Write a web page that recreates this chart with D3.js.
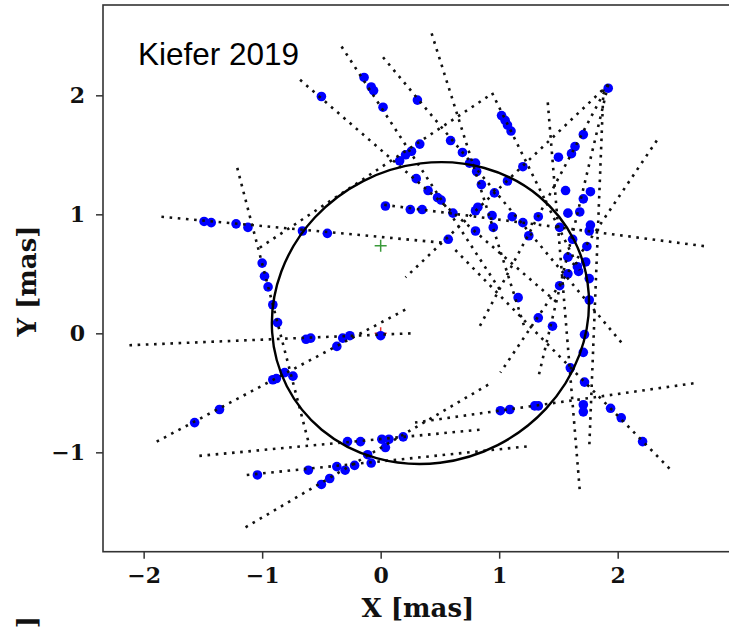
<!DOCTYPE html>
<html>
<head>
<meta charset="utf-8">
<script src="https://cdn.jsdelivr.net/npm/d3@7"></script>
<style>
  body { margin: 0; background: #fff; }
  svg { display: block; }
</style>
</head>
<body>
<svg id="chart" width="729" height="627"></svg>
<script>
// axis limits and ticks (mas)
var xLimits = [-2.343, 2.973];
var yLimits = [-1.835, 2.759];
var xTicks = [-2, -1, 0, 1, 2];
var yTicks = [-1, 0, 1, 2];

// scan directions of each epoch: [[x1, y1], [x2, y2]]
var scanLines = [
    [[-1.85, 0.98], [0.54, 0.76]],
    [[-1.21, 1.39], [-0.61, -0.91]],
    [[-1.02, 0.72], [0.92, 2.00]],
    [[-0.33, 2.41], [1.01, 0.36]],
    [[0.02, 2.32], [2.05, -0.10]],
    [[0.43, 2.52], [1.22, 0.03]],
    [[-0.68, 2.13], [1.51, 0.24]],
    [[0.94, 2.02], [1.68, 0.53]],
    [[1.92, 2.09], [0.21, 0.47]],
    [[1.92, 2.09], [0.82, 0.03]],
    [[1.92, 2.09], [1.33, -0.37]],
    [[1.41, 1.94], [1.68, -1.32]],
    [[1.88, 2.05], [1.76, -0.96]],
    [[2.33, 1.62], [1.01, -0.33]],
    [[0.03, 1.08], [2.75, 0.73]],
    [[0.63, 0.70], [2.47, -1.17]],
    [[-2.12, -0.10], [0.26, 0.00]],
    [[-1.89, -0.91], [0.21, 0.20]],
    [[-1.53, -1.03], [0.84, -0.81]],
    [[-1.14, -1.63], [0.91, -0.43]],
    [[-1.13, -1.19], [1.24, -0.95]],
    [[2.64, -0.42], [0.29, -0.75]]
];

// measured positions
var measX = [
    -0.50, -0.14, -0.08, -0.06, 0.02, 0.31, 0.59, 0.69, 0.16, 0.21, 0.26, 0.33,
    0.30, 0.40, 0.48, 0.51, 0.61, 0.04, 0.25, 0.35, 0.57, 0.75, 0.80, 0.81, 0.85, 0.96,
    1.02, 1.05, 1.07, 1.10, 1.20, 1.07, 0.82, 0.80, 0.94, 0.95, 0.80, 1.11, 1.20, 1.33, 1.25,
    1.50, 1.61, 1.64, 1.71, 1.92, 1.56, 1.77, 1.71, 1.58, 1.68,
    1.51, 1.77, 1.76, 1.62, 1.74, 1.58, 1.73, 1.66, 1.58, 1.67, 1.76, 1.51, 1.16, 1.33, 1.45,
    1.76, 1.72, 1.71, 1.60, 1.72, 1.71, 1.71, 1.94, 2.03, 2.21, 1.01, 1.09, 1.30, 1.33,
    -1.49, -1.43, -1.22, -1.12, -0.66, -0.45, -1.00, -0.98, -0.95, -0.91, -0.87,
    -0.63, -0.59, -0.37, -0.32, -0.26, 0.00, -0.91, -0.88, -0.81, -0.74, -1.36, -1.57,
    -0.28, -0.17, 0.01, 0.07, 0.04, 0.19, -0.11, -0.08,
    -1.04, -0.61, -0.37, -0.30, -0.22, -0.43, -0.50
];
var measY = [
    1.99, 2.15, 2.07, 2.04, 1.90, 1.96, 1.62, 1.52, 1.45, 1.50, 1.53, 1.59,
    1.30, 1.20, 1.14, 1.12, 1.01, 1.07, 1.04, 1.04, 0.79, 1.43, 1.43, 1.36, 1.25, 1.18,
    1.83, 1.79, 1.75, 1.70, 1.40, 1.28, 1.06, 1.03, 0.99, 0.89, 0.86, 0.98, 0.93, 0.98, 0.82,
    1.48, 1.51, 1.57, 1.67, 2.06, 1.20, 1.19, 1.13, 1.01, 1.02,
    0.89, 0.91, 0.86, 0.79, 0.73, 0.64, 0.60, 0.56, 0.50, 0.52, 0.46, 0.40, 0.30, 0.13, 0.06,
    0.28, -0.01, -0.16, -0.29, -0.41, -0.60, -0.66, -0.63, -0.71, -0.91, -0.65, -0.64, -0.61, -0.61,
    0.94, 0.93, 0.92, 0.89, 0.86, 0.84, 0.59, 0.48, 0.39, 0.24, 0.09,
    -0.05, -0.04, -0.11, -0.04, -0.02, -0.02, -0.39, -0.38, -0.33, -0.36, -0.64, -0.75,
    -0.91, -0.91, -0.89, -0.89, -0.96, -0.87, -1.02, -1.09,
    -1.19, -1.15, -1.12, -1.15, -1.11, -1.22, -1.27
];

// fitted orbit: centre, semi-axes, tilt in degrees
var orbitCentre = [0.42, 0.17];
var orbitAxes = [1.36, 1.245];
var orbitTilt = 27;

var primaryStar = [0, 0];
var photoCentre = [0, 0.735];

var svg = d3.select("#chart"),
    x = d3.scaleLinear().domain(xLimits).range([103, 733]),
    y = d3.scaleLinear().domain(yLimits).range([551.7, 5]),
    minus = function (d) { return d < 0 ? "\u2212" + Math.abs(d) : String(d); };

svg.append("clipPath").attr("id", "plotClip")
    .append("rect")
    .attr("x", x(xLimits[0])).attr("y", y(yLimits[1]))
    .attr("width", x(xLimits[1]) - x(xLimits[0]))
    .attr("height", y(yLimits[0]) - y(yLimits[1]));

var plot = svg.append("g").attr("clip-path", "url(#plotClip)");

// red + under the points
function plusMark(g, p, colour) {
    var cx = x(p[0]), cy = y(p[1]), s = 6;
    g.append("path")
        .attr("d", "M" + (cx - s) + "," + cy + "H" + (cx + s) + "M" + cx + "," + (cy - s) + "V" + (cy + s))
        .attr("stroke", colour).attr("stroke-width", 1.5).attr("fill", "none");
}
plusMark(plot, primaryStar, "#e8332e");

plot.append("g")
    .selectAll("circle")
    .data(d3.range(measX.length))
    .join("circle")
    .attr("cx", i => x(measX[i]))
    .attr("cy", i => y(measY[i]))
    .attr("r", 4.8)
    .attr("fill", "#0000ff");

plot.append("g")
    .selectAll("line")
    .data(scanLines)
    .join("line")
    .attr("x1", d => x(d[0][0])).attr("y1", d => y(d[0][1]))
    .attr("x2", d => x(d[1][0])).attr("y2", d => y(d[1][1]))
    .attr("stroke", "#111")
    .attr("stroke-width", 2.6)
    .attr("stroke-dasharray", "2.6 5.6");

var ecx = x(orbitCentre[0]), ecy = y(orbitCentre[1]);
plot.append("ellipse")
    .attr("cx", ecx).attr("cy", ecy)
    .attr("rx", x(orbitCentre[0] + orbitAxes[0]) - ecx)
    .attr("ry", ecy - y(orbitCentre[1] + orbitAxes[1]))
    .attr("transform", "rotate(" + (-orbitTilt) + "," + ecx + "," + ecy + ")")
    .attr("fill", "none")
    .attr("stroke", "#000")
    .attr("stroke-width", 2.4);

plusMark(plot, photoCentre, "#3a9a3a");

// frame
svg.append("rect")
    .attr("x", x(xLimits[0])).attr("y", y(yLimits[1]))
    .attr("width", x(xLimits[1]) - x(xLimits[0]))
    .attr("height", y(yLimits[0]) - y(yLimits[1]))
    .attr("fill", "none").attr("stroke", "#333").attr("stroke-width", 1.6);

var xAxis = svg.append("g")
    .attr("transform", "translate(0," + y(yLimits[0]) + ")")
    .call(d3.axisBottom(x).tickValues(xTicks).tickSize(7).tickPadding(9).tickFormat(minus));
var yAxis = svg.append("g")
    .attr("transform", "translate(" + x(xLimits[0]) + ",0)")
    .call(d3.axisLeft(y).tickValues(yTicks).tickSize(7).tickPadding(11).tickFormat(minus));

[xAxis, yAxis].forEach(function (ax) {
    ax.select(".domain").remove();
    ax.selectAll("line").attr("stroke", "#333").attr("stroke-width", 1.5);
    ax.selectAll("text")
        .attr("fill", "#111")
        .style("font-family", "'DejaVu Serif', serif")
        .style("font-weight", "bold")
        .style("font-size", "22px");
});

svg.append("text")
    .attr("x", 418).attr("y", 617)
    .attr("text-anchor", "middle")
    .style("font-family", "'DejaVu Serif', serif")
    .style("font-weight", "bold")
    .style("font-size", "26px")
    .attr("fill", "#111")
    .text("X [mas]");

svg.append("text")
    .attr("transform", "translate(36,281) rotate(-90)")
    .attr("text-anchor", "middle")
    .style("font-family", "'DejaVu Serif', serif")
    .style("font-weight", "bold")
    .style("font-size", "26px")
    .attr("fill", "#111")
    .text("Y [mas]");

// label of the panel below, cut by the page edge as in the source figure
svg.append("text")
    .attr("transform", "translate(36,616) rotate(-90)")
    .attr("text-anchor", "end")
    .style("font-family", "'DejaVu Serif', serif")
    .style("font-weight", "bold")
    .style("font-size", "26px")
    .attr("fill", "#111")
    .text("Y [mas]");

svg.append("text")
    .attr("x", 138).attr("y", 65)
    .style("font-family", "'Liberation Sans', Arial, sans-serif")
    .style("font-size", "31.5px")
    .attr("fill", "#000")
    .text("Kiefer 2019");
</script>
</body>
</html>
